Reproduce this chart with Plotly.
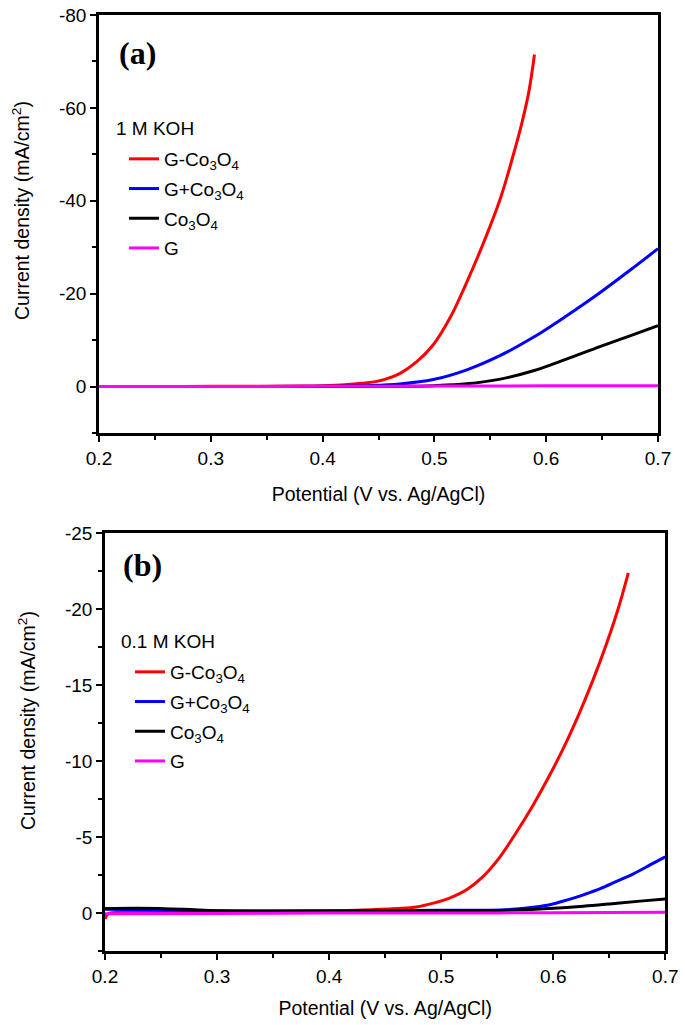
import plotly.graph_objects as go

# ---------------- Data: panel (a) 1 M KOH ----------------
a_red_x = [0.20, 0.25, 0.30, 0.35, 0.38, 0.40, 0.42, 0.44, 0.455, 0.469, 0.484, 0.499, 0.514, 0.529, 0.544, 0.559, 0.5705, 0.5785, 0.5845, 0.5895]
a_red_y = [0.0, -0.02, -0.05, -0.08, -0.12, -0.2, -0.4, -0.8, -1.5, -2.8, -5.3, -9.0, -14.8, -22.5, -31.0, -40.5, -49.8, -57.0, -63.5, -71.5]

a_blue_x = [0.20, 0.30, 0.40, 0.42, 0.44, 0.469, 0.499, 0.529, 0.559, 0.5885, 0.618, 0.648, 0.678, 0.70]
a_blue_y = [0.0, 0.0, -0.05, -0.1, -0.2, -0.55, -1.5, -3.6, -6.7, -10.6, -15.2, -20.2, -25.6, -29.7]

a_black_x = [0.20, 0.30, 0.40, 0.47, 0.499, 0.529, 0.559, 0.5885, 0.618, 0.648, 0.678, 0.70]
a_black_y = [0.0, 0.0, 0.0, -0.05, -0.2, -0.6, -1.6, -3.4, -5.9, -8.6, -11.2, -13.1]

a_mag_x = [0.20, 0.30, 0.40, 0.50, 0.60, 0.70]
a_mag_y = [0.0, 0.0, -0.05, -0.1, -0.15, -0.2]

# ---------------- Data: panel (b) 0.1 M KOH ----------------
b_red_x = [0.20, 0.203, 0.22, 0.30, 0.35, 0.40, 0.43, 0.46, 0.478, 0.493, 0.508, 0.523, 0.538, 0.5525, 0.567, 0.582, 0.597, 0.612, 0.627, 0.642, 0.657, 0.667]
b_red_y = [0.4, 0.05, -0.05, -0.1, -0.12, -0.15, -0.2, -0.3, -0.4, -0.65, -1.0, -1.55, -2.45, -3.7, -5.3, -7.1, -9.1, -11.3, -13.8, -16.6, -19.8, -22.4]

b_blue_x = [0.20, 0.25, 0.30, 0.40, 0.50, 0.5525, 0.567, 0.582, 0.597, 0.612, 0.627, 0.642, 0.657, 0.672, 0.686, 0.70]
b_blue_y = [-0.25, -0.2, -0.15, -0.15, -0.18, -0.2, -0.26, -0.38, -0.55, -0.85, -1.2, -1.6, -2.1, -2.6, -3.15, -3.7]

b_black_x = [0.20, 0.23, 0.27, 0.30, 0.35, 0.40, 0.50, 0.567, 0.597, 0.627, 0.657, 0.68, 0.70]
b_black_y = [-0.3, -0.32, -0.25, -0.15, -0.1, -0.12, -0.15, -0.2, -0.3, -0.45, -0.65, -0.8, -0.92]

b_mag_x = [0.20, 0.30, 0.40, 0.50, 0.60, 0.70]
b_mag_y = [0.05, 0.03, 0.0, 0.0, -0.02, -0.05]

names = ["G-Co<sub>3</sub>O<sub>4</sub>", "G+Co<sub>3</sub>O<sub>4</sub>", "Co<sub>3</sub>O<sub>4</sub>", "G"]
colors = ["#ff0000", "#0000ff", "#000000", "#ff00ff"]

x_ticks = [0.2, 0.3, 0.4, 0.5, 0.6, 0.7]
a_yticks = [-80, -60, -40, -20, 0]
b_yticks = [-25, -20, -15, -10, -5, 0]

FONT = "Liberation Sans, Arial, sans-serif"
SERIF = "Liberation Serif, Times New Roman, serif"

fig = go.Figure()

panel_a = [(a_red_x, a_red_y), (a_blue_x, a_blue_y), (a_black_x, a_black_y), (a_mag_x, a_mag_y)]
panel_b = [(b_red_x, b_red_y), (b_blue_x, b_blue_y), (b_black_x, b_black_y), (b_mag_x, b_mag_y)]

for i, (xs, ys) in enumerate(panel_a):
    fig.add_trace(go.Scatter(x=xs, y=ys, mode="lines", name=names[i],
                             line=dict(color=colors[i], width=3, shape="spline", smoothing=1.0),
                             xaxis="x", yaxis="y", legend="legend", legendgroup="a%d" % i))
for i, (xs, ys) in enumerate(panel_b):
    fig.add_trace(go.Scatter(x=xs, y=ys, mode="lines", name=names[i],
                             line=dict(color=colors[i], width=3, shape="spline", smoothing=1.0),
                             xaxis="x2", yaxis="y2", legend="legend2", legendgroup="b%d" % i))

# body margin is removed by post_script, so figure pixels == window pixels
W, H = 685, 1025

def px(xpage):
    return xpage / W

def py(ypage):
    return 1 - ypage / H

def xax(domain, anchor, standoff):
    return dict(domain=domain, anchor=anchor, range=[0.2, 0.7], tickvals=x_ticks,
                ticktext=[str(v) for v in x_ticks], automargin=False, ticklabeloverflow="allow",
                showline=True, linecolor="black", linewidth=2.5, mirror=True,
                ticks="outside", ticklen=6, tickwidth=2, tickcolor="black",
                minor=dict(dtick=0.05, tick0=0.2, ticks="outside", ticklen=4, tickwidth=2, tickcolor="black"),
                showgrid=False, zeroline=False,
                tickfont=dict(family=FONT, size=19, color="black"),
                title=dict(text="Potential (V vs. Ag/AgCl)", font=dict(family=FONT, size=19.5, color="black"), standoff=standoff))

def yax(domain, anchor, rng, tickvals, minor_dtick):
    return dict(domain=domain, anchor=anchor, range=rng, tickvals=tickvals,
                ticktext=[str(v) for v in tickvals], automargin=False, ticklabeloverflow="allow",
                showline=True, linecolor="black", linewidth=2.5, mirror=True,
                ticks="outside", ticklen=6, tickwidth=2, tickcolor="black",
                minor=dict(dtick=minor_dtick, tick0=0, ticks="outside", ticklen=4, tickwidth=2, tickcolor="black"),
                showgrid=False, zeroline=False,
                tickfont=dict(family=FONT, size=19, color="black"))

legend_font = dict(family=FONT, size=19, color="black")
ytitle = "Current density (mA/cm<sup>2</sup>)"

fig.update_layout(
    width=W, height=H,
    margin=dict(l=0, r=0, t=0, b=0, autoexpand=False),
    paper_bgcolor="white", plot_bgcolor="white",
    xaxis=xax([px(99), px(658)], "y", 20),
    yaxis=yax([py(433), py(15)], "x", [10, -80], a_yticks, 10),
    xaxis2=xax([px(105), px(665.3)], "y2", 16),
    yaxis2=yax([py(951), py(533.3)], "x2", [2.5, -25], b_yticks, 2.5),
    legend=dict(x=px(124), y=py(140), xanchor="left", yanchor="top",
                bgcolor="rgba(0,0,0,0)", borderwidth=0, tracegroupgap=2,
                font=legend_font),
    legend2=dict(x=px(130), y=py(653), xanchor="left", yanchor="top",
                 bgcolor="rgba(0,0,0,0)", borderwidth=0, tracegroupgap=2,
                 font=legend_font),
    annotations=[
        dict(text="<b>(a)</b>", xref="paper", yref="paper", x=px(137), y=py(53),
             showarrow=False, xanchor="center", yanchor="middle",
             font=dict(family=SERIF, size=32, color="black")),
        dict(text="<b>(b)</b>", xref="paper", yref="paper", x=px(142), y=py(565),
             showarrow=False, xanchor="center", yanchor="middle",
             font=dict(family=SERIF, size=32, color="black")),
        dict(text="1 M KOH", xref="paper", yref="paper", x=px(114), y=py(128),
             showarrow=False, xanchor="left", yanchor="middle", font=legend_font),
        dict(text="0.1 M KOH", xref="paper", yref="paper", x=px(119), y=py(641),
             showarrow=False, xanchor="left", yanchor="middle", font=legend_font),
        dict(text=ytitle, xref="paper", yref="paper", x=px(21), y=py(211), textangle=-90,
             showarrow=False, xanchor="center", yanchor="middle",
             font=dict(family=FONT, size=19.5, color="black")),
        dict(text=ytitle, xref="paper", yref="paper", x=px(27), y=py(721), textangle=-90,
             showarrow=False, xanchor="center", yanchor="middle",
             font=dict(family=FONT, size=19.5, color="black")),
    ],
)

fig.write_html("out.html",
               config={"displayModeBar": False},
               post_script="document.body.style.margin='0';document.body.style.overflow='hidden';")
